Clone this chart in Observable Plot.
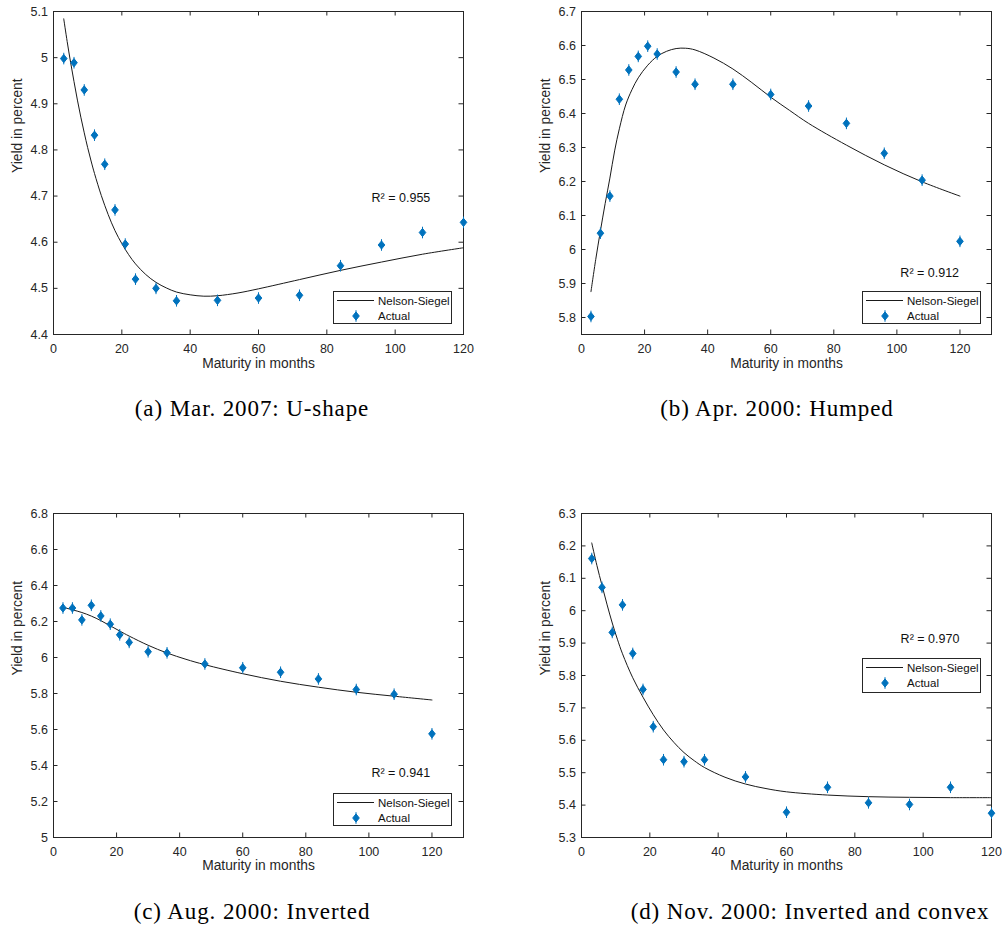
<!DOCTYPE html>
<html>
<head>
<meta charset="utf-8">
<script src="https://cdn.jsdelivr.net/npm/d3@7"></script>
<script src="https://cdn.jsdelivr.net/npm/@observablehq/plot@0.6"></script>
<style>
  html, body { margin: 0; padding: 0; background: #fff; }
  #root { position: relative; width: 1002px; height: 928px; overflow: hidden; background: #fff; }
  .panel { position: absolute; }
  .panel svg { max-width: none !important; overflow: visible; }
  .caption { position: absolute; font-family: "Liberation Serif", "Times New Roman", serif; font-size: 23px; line-height: 23px;
             letter-spacing: 0.9px; white-space: nowrap; color: #000; transform: translateX(-50%); }
</style>
</head>
<body>
<div id="root"></div>
<script>
// ---------- data ----------
const maturities = [3, 6, 9, 12, 15, 18, 21, 24, 30, 36, 48, 60, 72, 84, 96, 108, 120];

const actualA = [4.998, 4.989, 4.930, 4.832, 4.769, 4.670, 4.596, 4.520, 4.500, 4.473, 4.474, 4.479, 4.485, 4.549, 4.594, 4.621, 4.643];
const actualB = [5.803, 6.048, 6.157, 6.442, 6.528, 6.568, 6.598, 6.575, 6.522, 6.486, 6.486, 6.456, 6.422, 6.371, 6.283, 6.204, 6.024];
const actualC = [6.275, 6.275, 6.209, 6.290, 6.231, 6.185, 6.126, 6.084, 6.032, 6.026, 5.964, 5.943, 5.918, 5.881, 5.822, 5.796, 5.576];
const actualD = [6.161, 6.072, 5.933, 6.018, 5.868, 5.757, 5.642, 5.540, 5.534, 5.540, 5.487, 5.378, 5.455, 5.407, 5.402, 5.455, 5.375];

const fitMatA = [3, 4, 5, 6, 7, 8, 9, 10, 11, 12, 14, 16, 18, 20, 22, 24, 27, 30, 33, 36, 40, 44, 48, 54, 60, 72, 84, 96, 108, 120];
const fitA    = [5.084, 5.035, 4.990, 4.948, 4.908, 4.871, 4.837, 4.805, 4.776, 4.749, 4.701, 4.660, 4.625, 4.597, 4.573, 4.553, 4.530, 4.513, 4.501, 4.492, 4.486, 4.483, 4.484, 4.490, 4.499, 4.519, 4.539, 4.557, 4.574, 4.588];

const fitMatB = [3, 4.5, 6, 7.5, 9, 10.5, 12, 14, 16, 18, 21, 24, 27, 30, 33, 36, 42, 48, 54, 60, 66, 72, 84, 96, 108, 120];
const fitB    = [5.876, 5.970, 6.055, 6.135, 6.210, 6.290, 6.355, 6.425, 6.470, 6.505, 6.542, 6.568, 6.583, 6.591, 6.592, 6.587, 6.563, 6.531, 6.491, 6.448, 6.409, 6.371, 6.307, 6.249, 6.199, 6.157];

const fitMatC = [3, 6, 9, 12, 15, 18, 21, 24, 30, 36, 42, 48, 60, 72, 84, 96, 108, 120];
const fitC    = [6.279, 6.265, 6.250, 6.230, 6.205, 6.176, 6.147, 6.119, 6.068, 6.025, 5.990, 5.960, 5.910, 5.868, 5.835, 5.807, 5.785, 5.764];

const fitMatD = [3, 4.5, 6, 7.5, 9, 10.5, 12, 15, 18, 21, 24, 27, 30, 33, 36, 42, 48, 54, 60, 72, 84, 96, 108, 120];
const fitD    = [6.209, 6.140, 6.078, 6.018, 5.962, 5.912, 5.867, 5.793, 5.733, 5.679, 5.632, 5.594, 5.562, 5.537, 5.516, 5.486, 5.465, 5.451, 5.441, 5.431, 5.426, 5.424, 5.423, 5.423];

const xTicks  = [0, 20, 40, 60, 80, 100, 120];
const yTicksA = [4.4, 4.5, 4.6, 4.7, 4.8, 4.9, 5.0, 5.1];
const yTicksB = [5.8, 5.9, 6.0, 6.1, 6.2, 6.3, 6.4, 6.5, 6.6, 6.7];
const yTicksC = [5.0, 5.2, 5.4, 5.6, 5.8, 6.0, 6.2, 6.4, 6.6, 6.8];
const yTicksD = [5.3, 5.4, 5.5, 5.6, 5.7, 5.8, 5.9, 6.0, 6.1, 6.2, 6.3];

const captions = ["(a) Mar. 2007: U-shape", "(b) Apr. 2000: Humped", "(c) Aug. 2000: Inverted", "(d) Nov. 2000: Inverted and convex"];
const r2Labels = ["R\u00B2 = 0.955", "R\u00B2 = 0.912", "R\u00B2 = 0.941", "R\u00B2 = 0.970"];
const legendLabels = ["Nelson-Siegel", "Actual"];
const xLabel = "Maturity in months";
const yLabel = "Yield in percent";

// ---------- layout / style ----------
const actuals = [actualA, actualB, actualC, actualD];
const fitMats = [fitMatA, fitMatB, fitMatC, fitMatD];
const fits = [fitA, fitB, fitC, fitD];
const yTicks = [yTicksA, yTicksB, yTicksC, yTicksD];

const W = 501, H = 385, TICK = 4.5;
const layout = [
  {left: 0,   top: 0,   mL: 53, mR: 38, mT: 11, mB: 51, xMax: 120, yDom: [4.4, 5.1],  r2: [93.1, 4.695],  leg: [333, 291, 33], cap: [252, 416], xlabDy: 33},
  {left: 501, top: 0,   mL: 80, mR: 11, mT: 11, mB: 51, xMax: 130, yDom: [5.75, 6.7], r2: [101.1, 5.931], leg: [862, 291, 33], cap: [777, 416], xlabDy: 33},
  {left: 0,   top: 500, mL: 53, mR: 38, mT: 13, mB: 48, xMax: 130, yDom: [5.0, 6.8],  r2: [100.8, 5.358], leg: [333, 793, 33], cap: [252, 919], xlabDy: 32},
  {left: 501, top: 500, mL: 80, mR: 11, mT: 13, mB: 48, xMax: 120, yDom: [5.3, 6.3],  r2: [93.4, 5.914],  leg: [862, 658, 35], cap: [810, 919], xlabDy: 32}
];

const BLUE = "#0072BD";
const AXIS = "#262626";
const SANS = '"Liberation Sans", Arial, Helvetica, sans-serif';

// diamond marker with a short vertical bar (as in the MATLAB figure)
const markerSymbol = {
  draw(ctx) {
    const w = 3.3, h = 4.1, L = 5.8;
    ctx.moveTo(0, -h); ctx.lineTo(w, 0); ctx.lineTo(0, h); ctx.lineTo(-w, 0); ctx.closePath();
    ctx.moveTo(0, -L); ctx.lineTo(0, L);
  }
};

const fmt = d => String(+(+d).toFixed(1));

function makePanel(i) {
  const L = layout[i];
  const pw = W - L.mL - L.mR;           // inner frame width
  const ph = H - L.mT - L.mB;           // inner frame height
  const pts = maturities.map((m, j) => ({m, y: actuals[i][j]}));
  const fit = fitMats[i].map((m, j) => ({m, y: fits[i][j]}));
  return Plot.plot({
    width: W, height: H,
    marginLeft: L.mL, marginRight: L.mR, marginTop: L.mT, marginBottom: L.mB,
    x: {domain: [0, L.xMax]},
    y: {domain: L.yDom},
    style: {fontFamily: SANS, fontSize: "12.5px", color: AXIS, background: "transparent", overflow: "visible"},
    marks: [
      Plot.frame({stroke: AXIS, strokeWidth: 1}),
      // inward tick marks on all four sides (MATLAB box style)
      Plot.tickX(xTicks, {x: d => d, insetTop: ph - TICK, stroke: AXIS}),
      Plot.tickX(xTicks, {x: d => d, insetBottom: ph - TICK, stroke: AXIS}),
      Plot.tickY(yTicks[i], {y: d => d, insetRight: pw - TICK, stroke: AXIS}),
      Plot.tickY(yTicks[i], {y: d => d, insetLeft: pw - TICK, stroke: AXIS}),
      // tick labels
      Plot.axisX({anchor: "bottom", ticks: xTicks, tickSize: 0, tickPadding: 9.5, tickFormat: d => String(d), label: null, fontSize: 12.5}),
      Plot.axisY({anchor: "left", ticks: yTicks[i], tickSize: 0, tickPadding: 5.6, tickFormat: fmt, label: null, fontSize: 12.5}),
      Plot.line(fit, {x: "m", y: "y", stroke: "#1a1a1a", strokeWidth: 1, curve: "catmull-rom"}),
      Plot.dot(pts, {x: "m", y: "y", symbol: markerSymbol, r: 4, fill: BLUE, stroke: BLUE, strokeWidth: 1}),
      Plot.text([{x: L.r2[0], y: L.r2[1], t: r2Labels[i]}], {x: "x", y: "y", text: "t", textAnchor: "start", fontSize: 12.5, fill: "#111"}),
      Plot.text([xLabel], {frameAnchor: "bottom", dy: L.xlabDy, fontSize: 13.8, fill: AXIS}),
      Plot.text([yLabel], {frameAnchor: "left", dx: -36, rotate: -90, fontSize: 13.8, fill: AXIS})
    ]
  });
}

function makeLegend(i) {
  const [lx, ly, lh] = layout[i].leg;
  const w = 119;
  const svg = d3.create("svg")
    .attr("width", w).attr("height", lh)
    .style("position", "absolute").style("left", lx + "px").style("top", ly + "px")
    .style("font-family", SANS).style("font-size", "11.5px");
  svg.append("rect").attr("x", 0.5).attr("y", 0.5).attr("width", w - 1).attr("height", lh - 1)
    .attr("fill", "#fff").attr("stroke", AXIS).attr("stroke-width", 1);
  svg.append("line").attr("x1", 4).attr("x2", 41).attr("y1", 9.5).attr("y2", 9.5)
    .attr("stroke", "#1a1a1a").attr("stroke-width", 1);
  svg.append("path").attr("transform", "translate(23,25)")
    .attr("d", d3.symbol(markerSymbol)())
    .attr("fill", BLUE).attr("stroke", BLUE).attr("stroke-width", 1);
  svg.append("text").attr("x", 45).attr("y", 9.5).attr("dy", "0.35em").attr("fill", "#111").text(legendLabels[0]);
  svg.append("text").attr("x", 45).attr("y", 25).attr("dy", "0.35em").attr("fill", "#111").text(legendLabels[1]);
  return svg.node();
}

const root = document.getElementById("root");
for (let i = 0; i < 4; i++) {
  const L = layout[i];
  const div = document.createElement("div");
  div.className = "panel";
  div.style.left = L.left + "px";
  div.style.top = L.top + "px";
  div.appendChild(makePanel(i));
  root.appendChild(div);
  root.appendChild(makeLegend(i));
  const cap = document.createElement("div");
  cap.className = "caption";
  cap.style.left = L.cap[0] + "px";
  cap.style.top = (L.cap[1] - 19) + "px";
  cap.textContent = captions[i];
  root.appendChild(cap);
}
</script>
</body>
</html>
